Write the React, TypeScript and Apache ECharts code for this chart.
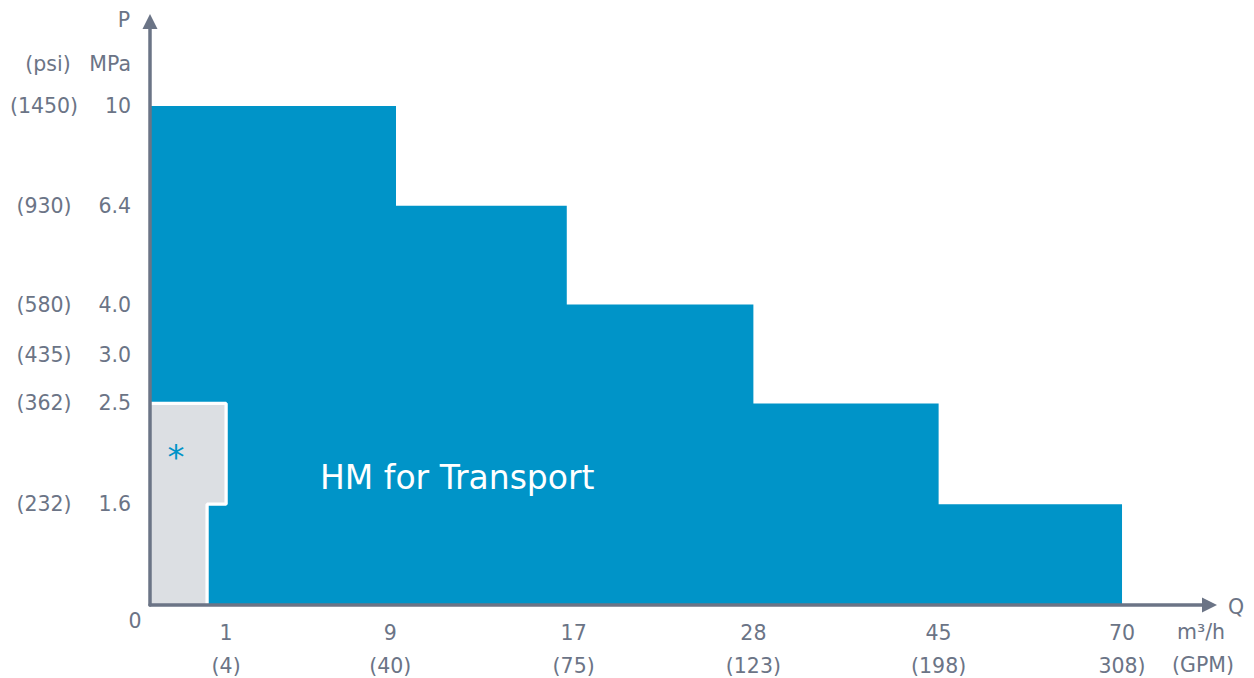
import React, { useEffect, useRef } from "react";
import * as echarts from "echarts";

// ---- data ----
const xTickValues = [1, 9, 17, 28, 45, 70]; // m³/h
const xTickGpm = ["(4)", "(40)", "(75)", "(123)", "(198)", "308)"];
const yTickValues = [1.6, 2.5, 3.0, 4.0, 6.4, 10]; // MPa
const yTickMpa = ["1.6", "2.5", "3.0", "4.0", "6.4", "10"];
const yTickPsi = ["(232)", "(362)", "(435)", "(580)", "(930)", "(1450)"];

// HM for Transport envelope: each step ends at Q with pressure P
const blueStepEndQ = [9.25, 16.7, 28, 45, 70];
const blueStepP = [10, 6.4, 4.0, 2.5, 1.6];

// grey (*) region
const greyStepEndQ = [1, 0.75];
const greyStepP = [2.5, 1.6];

// ---- axis scale layout (non-linear axes) ----
const X_SCALE_VALUES = [0, 1, 9, 17, 28, 45, 70];
const X_SCALE_POS = [0, 0.415, 1.31, 2.31, 3.29, 4.3, 5.3];
const Y_SCALE_VALUES = [0, 1.6, 2.5, 3.0, 4.0, 6.4, 10];
const Y_SCALE_POS = [0, 1.01, 2.02, 2.51, 3.01, 4.0, 5];
const X_MAX = 5.777;
const Y_MAX = 5.847;

const FONT = '"DejaVu Sans", Verdana, sans-serif';
const GREY_TEXT = "#6b7486";
const BLUE = "#0094c8";
const FS = 20.5;

function interp(v: number, xs: number[], ys: number[]) {
  for (let i = 1; i < xs.length; i++) {
    if (v <= xs[i] || i === xs.length - 1) {
      return ys[i - 1] + ((v - xs[i - 1]) / (xs[i] - xs[i - 1])) * (ys[i] - ys[i - 1]);
    }
  }
  return ys[ys.length - 1];
}
const qPos = (q: number) => interp(q, X_SCALE_VALUES, X_SCALE_POS);
const pPos = (p: number) => interp(p, Y_SCALE_VALUES, Y_SCALE_POS);

function stepPoints(endQ: number[], ps: number[]) {
  const pts: number[][] = [[qPos(0), pPos(ps[0])]];
  for (let i = 0; i < endQ.length; i++) {
    pts.push([qPos(endQ[i]), pPos(ps[i])]);
    const next = i + 1 < ps.length ? ps[i + 1] : 0;
    pts.push([qPos(endQ[i]), pPos(next)]);
  }
  return pts;
}

function findIdx(pos: number, arr: number[]) {
  for (let i = 0; i < arr.length; i++) if (Math.abs(arr[i] - pos) < 1e-6) return i;
  return -1;
}

export default function App() {
  const ref = useRef<HTMLDivElement>(null);
  useEffect(() => {
    if (!ref.current) return;
    const chart = echarts.init(ref.current, null, { renderer: "svg" });
    const xLabelPos = xTickValues.map(qPos);
    const yLabelPos = yTickValues.map(pPos);
    const txt = (text: string, x: number, y: number, align: string, extra: any = {}) => ({
      type: "text",
      x,
      y,
      z: 100,
      style: {
        text,
        fill: GREY_TEXT,
        font: `${FS}px ${FONT}`,
        textAlign: align,
        textVerticalAlign: "middle",
        ...extra,
      },
    });
    chart.setOption({
      animation: false,
      grid: {
        left: 150,
        top: 21.5,
        right: 44.5,
        bottom: 73,
        containLabel: false,
        outerBoundsMode: "none",
      },
      xAxis: {
        type: "value",
        min: 0,
        max: X_MAX,
        z: 10,
        axisLine: {
          show: true,
          symbol: ["none", "triangle"],
          symbolSize: [15, 15],
          lineStyle: { color: GREY_TEXT, width: 3.5 },
        },
        axisTick: { show: false },
        splitLine: { show: false },
        axisLabel: {
          customValues: xLabelPos,
          margin: 11,
          color: GREY_TEXT,
          fontSize: FS,
          fontFamily: FONT,
          lineHeight: 33,
          formatter: (v: number) => {
            const i = findIdx(v, xLabelPos);
            return i < 0 ? "" : `${xTickValues[i]}\n${xTickGpm[i]}`;
          },
        },
      },
      yAxis: {
        type: "value",
        min: 0,
        max: Y_MAX,
        z: 10,
        axisLine: {
          show: true,
          symbol: ["none", "triangle"],
          symbolSize: [15, 15],
          lineStyle: { color: GREY_TEXT, width: 3.5 },
        },
        axisTick: { show: false },
        splitLine: { show: false },
        axisLabel: {
          customValues: yLabelPos,
          margin: 19,
          color: GREY_TEXT,
          fontSize: FS,
          fontFamily: FONT,
          formatter: (v: number) => {
            const i = findIdx(v, yLabelPos);
            return i < 0 ? "" : `{a|${yTickPsi[i]}}{b|${yTickMpa[i]}}`;
          },
          rich: {
            a: { width: 74, align: "center", color: GREY_TEXT, fontSize: FS, fontFamily: FONT },
            b: { width: 50, align: "right", color: GREY_TEXT, fontSize: FS, fontFamily: FONT },
          },
        },
      },
      series: [
        {
          type: "line",
          data: stepPoints(blueStepEndQ, blueStepP),
          symbol: "none",
          lineStyle: { width: 0 },
          areaStyle: { color: BLUE, opacity: 1 },
          z: 2,
          silent: true,
        },
        {
          type: "line",
          data: stepPoints(greyStepEndQ, greyStepP),
          symbol: "none",
          lineStyle: { width: 3.3, color: "#ffffff" },
          areaStyle: { color: "#dcdfe3", opacity: 1 },
          z: 3,
          silent: true,
        },
      ],
      graphic: [
        txt("P", 124, 20, "center"),
        txt("(psi)", 48, 64, "center"),
        txt("MPa", 131, 64, "right"),
        txt("0", 135, 621, "center"),
        txt("Q", 1236, 607, "center"),
        txt("m³/h", 1201, 632, "center"),
        txt("(GPM)", 1203, 665, "center"),
        txt("HM for Transport", 320, 477, "left", { fill: "#ffffff", font: `33px ${FONT}` }),
        txt("*", 176, 457, "center", { fill: BLUE, font: `34px ${FONT}` }),
      ],
    });
    return () => chart.dispose();
  }, []);
  return (
    <div
      ref={ref}
      style={{ position: "fixed", left: 0, top: 0, width: 1254, height: 678, background: "#ffffff" }}
    />
  );
}
